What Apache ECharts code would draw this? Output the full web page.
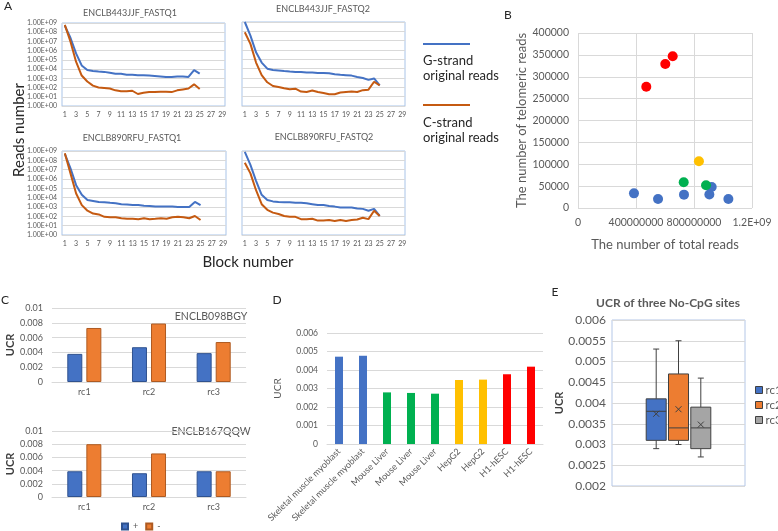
<!DOCTYPE html>
<html>
<head>
<meta charset="utf-8">
<script src="https://cdn.jsdelivr.net/npm/echarts@6/dist/echarts.min.js"></script>
<style>
  html, body { margin: 0; padding: 0; background: #fff; }
  #main { width: 778px; height: 531px; }
</style>
</head>
<body>
<div id="main"></div>
<script>
// ---- A: reads per block (log scale) ----
const blocks = ['1','2','3','4','5','6','7','8','9','10','11','12','13','14','15','16','17','18','19','20','21','22','23','24','25','26','27','28','29'];
const a1G = [5.0e8, 2.5e7, 5.0e5, 2.5e4, 7.9e3, 6.3e3, 5.6e3, 5.0e3, 4.0e3, 3.2e3, 3.2e3, 2.5e3, 2.5e3, 2.2e3, 2.2e3, 2.0e3, 1.8e3, 1.6e3, 1.4e3, 1.4e3, 1.6e3, 1.6e3, 1.4e3, 7.9e3, 3.2e3];
const a1C = [6.3e8, 1.0e7, 6.3e4, 2.0e3, 450, 160, 100, 89, 79, 50, 40, 40, 45, 20, 28, 32, 32, 35, 35, 32, 50, 63, 79, 224, 71];
const a2G = [1.0e9, 3.5e7, 5.6e5, 4.5e4, 1.0e4, 7.1e3, 6.3e3, 5.6e3, 5.0e3, 4.5e3, 4.5e3, 4.0e3, 4.0e3, 3.5e3, 3.5e3, 3.2e3, 2.5e3, 2.2e3, 2.0e3, 1.8e3, 1.3e3, 1.0e3, 630, 890, 160];
const a2C = [7.9e7, 4.5e6, 4.5e4, 2.0e3, 350, 140, 110, 79, 63, 71, 35, 32, 45, 32, 25, 18, 18, 28, 32, 35, 32, 50, 56, 400, 160];
const a3G = [5.0e8, 1.4e7, 2.2e5, 2.0e4, 5.6e3, 4.5e3, 3.5e3, 3.2e3, 2.8e3, 2.5e3, 2.0e3, 1.8e3, 1.6e3, 1.6e3, 1.4e3, 1.3e3, 1.1e3, 1.1e3, 1.1e3, 1.1e3, 1.0e3, 1.0e3, 1.0e3, 3.5e3, 1.6e3];
const a3C = [5.6e8, 4.0e6, 2.8e4, 1.6e3, 400, 200, 160, 89, 79, 79, 63, 56, 56, 50, 63, 50, 56, 63, 56, 79, 89, 79, 63, 110, 40];
const a4G = [7.9e8, 3.2e7, 6.3e5, 2.0e4, 5.6e3, 4.0e3, 3.5e3, 3.2e3, 3.2e3, 2.8e3, 2.8e3, 2.5e3, 2.0e3, 1.6e3, 1.6e3, 1.3e3, 1.1e3, 890, 890, 890, 710, 630, 400, 630, 110];
const a4C = [5.6e7, 4.0e6, 6.3e4, 2.0e3, 500, 250, 180, 110, 89, 89, 50, 50, 56, 35, 35, 40, 32, 40, 32, 40, 45, 71, 50, 400, 110];
const aTitles = ['ENCLB443JJF_FASTQ1', 'ENCLB443JJF_FASTQ2', 'ENCLB890RFU_FASTQ1', 'ENCLB890RFU_FASTQ2'];

// ---- B: telomeric reads vs total reads ----
const bTotal = [4.71e8, 6.02e8, 6.53e8, 8.34e8, 7.29e8, 8.83e8, 3.86e8, 5.52e8, 7.31e8, 9.06e8, 9.22e8, 1.037e9];
const bTelo = [277000, 329000, 347000, 107000, 59000, 52000, 33500, 20500, 30500, 31000, 48000, 20500];
const bCell = ['H1-hESC', 'H1-hESC', 'H1-hESC', 'HepG2', 'Mouse Liver', 'Mouse Liver',
  'Skeletal muscle myoblast', 'Skeletal muscle myoblast', 'Skeletal muscle myoblast',
  'Skeletal muscle myoblast', 'Skeletal muscle myoblast', 'Skeletal muscle myoblast'];

// ---- C: UCR per replicate ----
const cCats = ['rc1', 'rc2', 'rc3'];
const c1Plus = [0.0038, 0.0047, 0.0039];
const c1Minus = [0.0073, 0.0079, 0.0054];
const c2Plus = [0.0039, 0.0036, 0.0039];
const c2Minus = [0.0080, 0.0066, 0.0039];

// ---- D: UCR per sample ----
const dCells = ['Skeletal muscle myoblast', 'Skeletal muscle myoblast', 'Mouse Liver', 'Mouse Liver', 'Mouse Liver', 'HepG2', 'HepG2', 'H1-hESC', 'H1-hESC'];
const dUCR = [0.00472, 0.00477, 0.00279, 0.00276, 0.00272, 0.00346, 0.00348, 0.00377, 0.00418];

// ---- E: box stats [min, Q1, median, Q3, max] and mean ----
const eNames = ['rc1', 'rc2', 'rc3'];
const eBox = [
  [0.0029, 0.0031, 0.0038, 0.0041, 0.0053],
  [0.0030, 0.0031, 0.0034, 0.0047, 0.0055],
  [0.0027, 0.0029, 0.0034, 0.0039, 0.0046]
];
const eMean = [0.00374, 0.00385, 0.00348];

const cellColor = {
  'Skeletal muscle myoblast': '#4472C4',
  'Mouse Liver': '#00B050',
  'HepG2': '#FFC000',
  'H1-hESC': '#FF0000'
};
const gray = '#595959';
const gridLine = { lineStyle: { color: '#d9d9d9' } };
const plain = function (v) { return String(v); };

const chart = echarts.init(document.getElementById('main'));

const grids = [
  { left: 62, top: 23, width: 163, height: 83, show: true, borderColor: '#a9c4e8' },   // A1
  { left: 242, top: 22, width: 163, height: 84, show: true, borderColor: '#a9c4e8' },  // A2
  { left: 62, top: 151, width: 164, height: 84, show: true, borderColor: '#a9c4e8' },  // A3
  { left: 242, top: 151, width: 163, height: 84, show: true, borderColor: '#a9c4e8' }, // A4
  { left: 578, top: 33, width: 174, height: 175 },   // B
  { left: 52, top: 308, width: 194, height: 74 },    // C top
  { left: 52, top: 431, width: 194, height: 66 },    // C bottom
  { left: 327, top: 333, width: 216, height: 111 },  // D
  { left: 612, top: 320, width: 133, height: 166, show: true, borderColor: '#b4c7e7' } // E
];

const xAxes = [];
const yAxes = [];
const series = [];

// A panels
const aData = [[a1G, a1C], [a2G, a2C], [a3G, a3C], [a4G, a4C]];
aData.forEach(function (pair, i) {
  xAxes.push({
    gridIndex: i, type: 'category', data: blocks, boundaryGap: true,
    axisTick: { show: false },
    axisLine: { lineStyle: { color: '#d9d9d9' } },
    axisLabel: { interval: 1, fontSize: 7, color: gray, margin: 5 }
  });
  yAxes.push({
    gridIndex: i, type: 'log', logBase: 10, min: 1, max: 1e9, splitNumber: 9,
    axisLine: { show: false }, axisTick: { show: false },
    splitLine: gridLine,
    axisLabel: {
      show: i % 2 === 0, fontSize: 7, color: gray, margin: 5,
      formatter: function (v) {
        const e = Math.round(Math.log10(v));
        return '1.00E+' + (e < 10 ? '0' : '') + e;
      }
    }
  });
  series.push(
    { name: 'G-strand', type: 'line', xAxisIndex: i, yAxisIndex: i, data: pair[0], symbol: 'none',
      lineStyle: { color: '#4472C4', width: 2 }, silent: true },
    { name: 'C-strand', type: 'line', xAxisIndex: i, yAxisIndex: i, data: pair[1], symbol: 'none',
      lineStyle: { color: '#C55A11', width: 2 }, silent: true }
  );
});

// B panel
xAxes.push({
  gridIndex: 4, type: 'value', min: 0, max: 1.2e9, interval: 4e8,
  axisLine: { show: false }, axisTick: { show: false }, splitLine: gridLine,
  axisLabel: { fontSize: 10.5, color: gray, margin: 9,
    formatter: function (v) { return v >= 1e9 ? '1.2E+09' : String(v); } },
  name: 'The number of total reads', nameLocation: 'middle', nameGap: 30,
  nameTextStyle: { fontSize: 13, color: gray }
});
yAxes.push({
  gridIndex: 4, type: 'value', min: 0, max: 400000, interval: 50000,
  axisLine: { show: false }, axisTick: { show: false }, splitLine: gridLine,
  axisLabel: { fontSize: 10.5, color: gray, margin: 9, formatter: plain },
  name: 'The number of telomeric reads', nameLocation: 'middle', nameGap: 50,
  nameTextStyle: { fontSize: 13, color: gray }
});
Object.keys(cellColor).forEach(function (cell) {
  const pts = [];
  bTotal.forEach(function (t, k) { if (bCell[k] === cell) pts.push([t, bTelo[k]]); });
  series.push({ name: 'B ' + cell, type: 'scatter', xAxisIndex: 4, yAxisIndex: 4, data: pts,
    symbolSize: 10, itemStyle: { color: cellColor[cell], opacity: 1 } });
});

// C panels
[[c1Plus, c1Minus], [c2Plus, c2Minus]].forEach(function (pair, j) {
  const g = 5 + j;
  xAxes.push({
    gridIndex: g, type: 'category', data: cCats,
    axisTick: { show: false }, axisLine: { lineStyle: { color: '#d9d9d9' } },
    axisLabel: { fontSize: 9, color: gray, margin: 6 }
  });
  yAxes.push({
    gridIndex: g, type: 'value', min: 0, max: 0.01, interval: 0.002,
    axisLine: { show: false }, axisTick: { show: false }, splitLine: gridLine,
    axisLabel: { fontSize: 9, color: gray, margin: 9 },
    name: 'UCR', nameLocation: 'middle', nameGap: 36,
    nameTextStyle: { fontSize: 11, fontWeight: 'bold', color: '#404040' }
  });
  series.push(
    { name: '+', type: 'bar', xAxisIndex: g, yAxisIndex: g, data: pair[0], barWidth: 15, barGap: '27%',
      itemStyle: { color: '#4472C4', borderColor: '#2F528F', borderWidth: 1 } },
    { name: '-', type: 'bar', xAxisIndex: g, yAxisIndex: g, data: pair[1], barWidth: 15, barGap: '27%',
      itemStyle: { color: '#ED7D31', borderColor: '#AE5A21', borderWidth: 1 } }
  );
});

// D panel
xAxes.push({
  gridIndex: 7, type: 'category', data: dCells,
  axisTick: { show: false }, axisLine: { lineStyle: { color: '#d9d9d9' } },
  axisLabel: { interval: 0, rotate: 45, fontSize: 9, color: gray, margin: 6 }
});
yAxes.push({
  gridIndex: 7, type: 'value', min: 0, max: 0.006, interval: 0.001,
  axisLine: { show: false }, axisTick: { show: false }, splitLine: gridLine,
  axisLabel: { fontSize: 8.5, color: gray, margin: 9 },
  name: 'UCR', nameLocation: 'middle', nameGap: 44,
  nameTextStyle: { fontSize: 10, color: gray }
});
series.push({
  name: 'D', type: 'bar', xAxisIndex: 7, yAxisIndex: 7, barWidth: 8,
  data: dUCR.map(function (v, k) { return { value: v, itemStyle: { color: cellColor[dCells[k]] } }; })
});

// E panel
xAxes.push({ gridIndex: 8, type: 'category', data: ['No-CpG'], show: false });
yAxes.push({
  gridIndex: 8, type: 'value', min: 0.002, max: 0.006, interval: 0.0005,
  axisLine: { show: false }, axisTick: { show: false }, splitLine: gridLine,
  axisLabel: { fontSize: 12, color: gray, margin: 6 },
  name: 'UCR', nameLocation: 'middle', nameGap: 46,
  nameTextStyle: { fontSize: 11, fontWeight: 'bold', color: '#404040' }
});
const eColors = ['#4472C4', '#ED7D31', '#A5A5A5'];
function boxItem(k) {
  return function (params, api) {
    const cx = api.coord([api.value(0), api.value(3)])[0] + (k - 1) * 22.3;
    const y = function (d) { return api.coord([api.value(0), api.value(d)])[1]; };
    const w = 20, cap = 3, m = 3;
    const st = { stroke: '#404040', lineWidth: 1 };
    const yMin = y(1), yQ1 = y(2), yMed = y(3), yQ3 = y(4), yMax = y(5), yMean = y(6);
    return {
      type: 'group', children: [
        { type: 'line', shape: { x1: cx, y1: yMax, x2: cx, y2: yQ3 }, style: st },
        { type: 'line', shape: { x1: cx, y1: yQ1, x2: cx, y2: yMin }, style: st },
        { type: 'line', shape: { x1: cx - cap, y1: yMax, x2: cx + cap, y2: yMax }, style: st },
        { type: 'line', shape: { x1: cx - cap, y1: yMin, x2: cx + cap, y2: yMin }, style: st },
        { type: 'rect', shape: { x: cx - w / 2, y: yQ3, width: w, height: yQ1 - yQ3 },
          style: { fill: api.visual('color'), stroke: '#404040', lineWidth: 1 } },
        { type: 'line', shape: { x1: cx - w / 2, y1: yMed, x2: cx + w / 2, y2: yMed }, style: st },
        { type: 'line', shape: { x1: cx - m, y1: yMean - m, x2: cx + m, y2: yMean + m }, style: st },
        { type: 'line', shape: { x1: cx - m, y1: yMean + m, x2: cx + m, y2: yMean - m }, style: st }
      ]
    };
  };
}
eNames.forEach(function (n, k) {
  series.push({
    name: n, type: 'custom', xAxisIndex: 8, yAxisIndex: 8,
    itemStyle: { color: eColors[k] },
    encode: { x: 0, y: [1, 2, 3, 4, 5, 6] },
    data: [[0].concat(eBox[k], [eMean[k]])],
    renderItem: boxItem(k)
  });
});

function txt(x, y, text, size, extra) {
  return { type: 'text', x: x, y: y, silent: true, rotation: (extra && extra.rotation) || 0,
    style: Object.assign({ text: text, fontSize: size, fill: '#262626', align: 'center',
      verticalAlign: 'middle', fontFamily: 'Lato' }, (extra && extra.style) || {}) };
}

const graphics = [
  txt(8, 6, 'A', 12),
  txt(508, 15, 'B', 12),
  txt(5, 300, 'C', 12),
  txt(277, 300, 'D', 12),
  txt(555, 292, 'E', 12),
  txt(130, 13, aTitles[0], 9, { style: { fill: gray } }),
  txt(323, 9, aTitles[1], 9, { style: { fill: gray } }),
  txt(132, 138, aTitles[2], 9, { style: { fill: gray } }),
  txt(324, 137, aTitles[3], 9, { style: { fill: gray } }),
  txt(19, 130, 'Reads number', 15, { rotation: Math.PI / 2 }),
  txt(248, 262, 'Block number', 15),
  { type: 'line', shape: { x1: 423, y1: 44, x2: 470, y2: 44 }, style: { stroke: '#4472C4', lineWidth: 2 } },
  txt(423, 61, 'G-strand', 13, { style: { align: 'left' } }),
  txt(423, 76, 'original reads', 13, { style: { align: 'left' } }),
  { type: 'line', shape: { x1: 423, y1: 105, x2: 470, y2: 105 }, style: { stroke: '#C55A11', lineWidth: 2 } },
  txt(423, 123, 'C-strand', 13, { style: { align: 'left' } }),
  txt(423, 138, 'original reads', 13, { style: { align: 'left' } }),
  txt(211, 317, 'ENCLB098BGY', 10.5, { style: { fill: gray } }),
  txt(211, 432, 'ENCLB167QQW', 10.5, { style: { fill: gray } }),
  txt(668, 303, 'UCR of three No-CpG sites', 12, { style: { fill: gray, fontWeight: 'bold' } })
];

chart.setOption({
  animation: false,
  backgroundColor: '#fff',
  textStyle: { fontFamily: 'Lato' },
  grid: grids,
  xAxis: xAxes,
  yAxis: yAxes,
  legend: [
    { data: ['+', '-'], left: 116, top: 517, itemWidth: 6, itemHeight: 6, itemGap: 7,
      icon: 'rect', textStyle: { fontSize: 9, color: gray }, selectedMode: false },
    { data: eNames, orient: 'vertical', left: 750, top: 379, itemWidth: 7, itemHeight: 7, itemGap: 3,
      icon: 'rect', itemStyle: { borderColor: '#404040', borderWidth: 1 },
      textStyle: { fontSize: 11.5, color: gray, padding: [0, 0, 0, -2] }, selectedMode: false }
  ],
  graphic: graphics,
  series: series
});
</script>
</body>
</html>
